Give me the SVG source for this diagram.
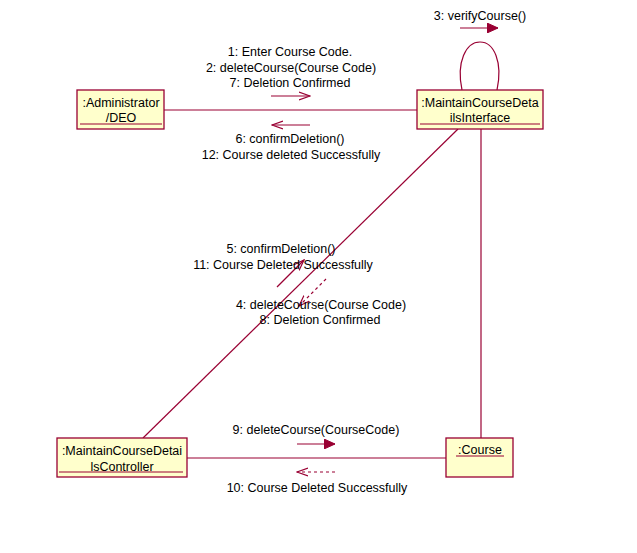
<svg xmlns="http://www.w3.org/2000/svg" width="637" height="553" viewBox="0 0 637 553">
<defs>
<style>
text{font-family:"Liberation Sans",Arial,sans-serif;font-size:12.5px;fill:#000}
.m{text-anchor:middle}
.box{fill:#FFFFCC;stroke:#990033;stroke-width:1.3}
.ln{stroke:#990033;stroke-width:1.2;fill:none}
.dash{stroke:#990033;stroke-width:1.2;fill:none;stroke-dasharray:3,3}
</style>
<marker id="open" markerWidth="12" markerHeight="10" refX="11" refY="5" orient="auto" markerUnits="userSpaceOnUse"><path d="M0,1 L11,5 L0,9" fill="none" stroke="#990033" stroke-width="1.2"/></marker>
<marker id="fill" markerWidth="12" markerHeight="10" refX="11" refY="5" orient="auto" markerUnits="userSpaceOnUse"><path d="M0,0 L11,5 L0,10 Z" fill="#990033" stroke="#990033"/></marker>
</defs>
<rect width="637" height="553" fill="#fff"/>
<g id="connectors">
<line class="ln" x1="164" y1="110" x2="417" y2="110"/>
<path class="ln" d="M462,90 C456,62 466,42 480,42 C494,42 503,62 497,90"/>
<line class="ln" x1="481" y1="129" x2="481" y2="438"/>
<line class="ln" x1="143" y1="438" x2="458" y2="129"/>
<line class="ln" x1="187" y1="458" x2="446" y2="458"/>
<line class="ln" x1="271" y1="96" x2="310" y2="96" marker-end="url(#open)"/>
<line class="ln" x1="310" y1="125" x2="272" y2="125" marker-end="url(#open)"/>
<line class="ln" x1="460" y1="28" x2="498" y2="28" marker-end="url(#fill)"/>
<line class="ln" x1="277" y1="287" x2="304" y2="260" marker-end="url(#open)"/>
<line class="dash" x1="326" y1="279" x2="299" y2="306" marker-end="url(#open)"/>
<line class="ln" x1="297" y1="444" x2="335" y2="444" marker-end="url(#fill)"/>
<line class="dash" x1="335" y1="472" x2="297" y2="472" marker-end="url(#open)"/>
</g>
<g id="labels">
<text class="m" x="290" y="56">1: Enter Course Code.</text>
<text class="m" x="291" y="72">2: deleteCourse(Course Code)</text>
<text class="m" x="290" y="87">7: Deletion Confirmed</text>
<text class="m" x="290" y="143">6: confirmDeletion()</text>
<text class="m" x="291" y="159">12: Course deleted Successfully</text>
<text class="m" x="480" y="20">3: verifyCourse()</text>
<text class="m" x="281" y="253">5: confirmDeletion()</text>
<text class="m" x="283" y="269">11: Course Deleted Successfully</text>
<text class="m" x="321" y="309">4: deleteCourse(Course Code)</text>
<text class="m" x="320" y="324">8: Deletion Confirmed</text>
<text class="m" x="316" y="434">9: deleteCourse(CourseCode)</text>
<text class="m" x="317" y="492">10: Course Deleted Successfully</text>
</g>
<g id="administrator">
<rect class="box" x="77" y="90" width="87" height="39"/>
<text class="m" x="121" y="107">:Administrator</text>
<text class="m" x="121" y="122">/DEO</text>
<line class="ln" x1="80" y1="124" x2="162" y2="124"/>
</g>
<g id="interface">
<rect class="box" x="417" y="90" width="126" height="39"/>
<text class="m" x="480" y="107">:MaintainCourseDeta</text>
<text class="m" x="480" y="122">ilsInterface</text>
<line class="ln" x1="420" y1="124" x2="540" y2="124"/>
</g>
<g id="controller">
<rect class="box" x="57" y="438" width="130" height="39"/>
<text class="m" x="122" y="455">:MaintainCourseDetai</text>
<text class="m" x="122" y="471">lsController</text>
<line class="ln" x1="59" y1="472" x2="183" y2="472"/>
</g>
<g id="course">
<rect class="box" x="446" y="438" width="67" height="39"/>
<text class="m" x="480" y="454">:Course</text>
<line class="ln" x1="456" y1="456" x2="504" y2="456"/>
</g>
</svg>
